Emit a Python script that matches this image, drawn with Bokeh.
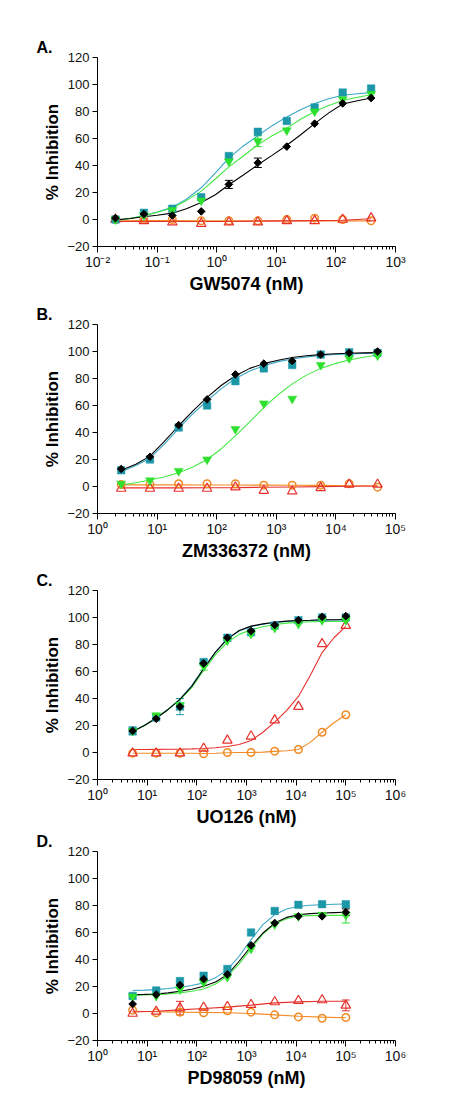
import numpy as np
from bokeh.plotting import figure
from bokeh.layouts import column
from bokeh.models import (Range1d, FixedTicker, CustomJSTickFormatter,
                          Whisker, ColumnDataSource, TeeHead)
from bokeh.embed import file_html
from bokeh.resources import INLINE

# ---------------- Panel A : GW5074 ----------------
a_x = [0.02, 0.06, 0.18, 0.55, 1.6, 4.9, 15, 44, 130, 390]
a_black = [1, 4, 3, 6, 26, 42, 54, 71, 86, 90]
a_black_err = [0, 0, 0, 0, 3, 3.5, 0, 0, 0, 0]
a_teal = [0, 5, 8, 16.5, 47, 65, 73, 83, 94, 97]
a_teal_err = [0, 0, 0, 0, 0, 0, 0, 0, 0, 0]
a_green = [0, 3, 7, 14, 43, 58, 66, 80, 89, 93]
a_green_err = [0, 0, 0, 0, 0, 4, 0, 0, 0, 0]
a_red = [0, -1, -2, -3, -2, -2, -1, -1, 0, 1]
a_red_err = [0, 0, 0, 0, 0, 0, 0, 0, 0, 0]
a_orange = [0, 0, 0, -1, -1, -1, 0, 1, 0, -1]
a_orange_err = [0, 0, 0, 0, 0, 0, 0, 0, 0, 0]
a_curve_x = [0.02, 0.035, 0.06, 0.1, 0.18, 0.31, 0.55, 0.95, 1.6, 2.8, 4.9,
             8.5, 15, 26, 44, 76, 130, 230, 390]
a_black_fit = [-0.3, 0.7, 2, 3.2, 4.7, 8, 12.6, 18.3, 25.7, 33, 40.5, 47.5, 55,
               63, 71, 79, 85.5, 88, 90]
a_teal_fit = [-0.7, 0.7, 2.8, 5.5, 9, 15, 23.5, 34.5, 45.5, 54.5, 62, 69.5, 76,
              81.5, 86, 89.5, 92, 93.2, 94]
a_green_fit = [-0.7, 0.7, 2.8, 5.3, 8.5, 14, 21, 30, 39, 47, 55.3, 62, 67.7,
               74.5, 80, 84.5, 88.1, 90.5, 92.4]
a_red_fit = [-1.5, -1.5, -1.5, -1.5, -1.5, -1.2, -1, -0.8, -0.5, 0.5]
a_orange_fit = [-0.5, -0.7, -0.8, -1, -1, -1, -1, -1, -1, -1]

# ---------------- Panel B : ZM336372 ----------------
b_x = [2.5, 7.6, 23, 69, 206, 617, 1850, 5560, 16700, 50000]
b_black = [13, 22, 45.5, 64.5, 83, 91, 93, 97.7, 99, 100]
b_black_err = [0, 0, 0, 0, 0, 0, 0, 0, 0, 0]
b_teal = [12, 20, 43.7, 60, 78, 87.5, 90, 97.7, 99.5, 99]
b_teal_err = [0, 0, 0, 0, 0, 0, 0, 0, 0, 0]
b_green = [2, 4.5, 11.5, 20, 42.5, 61.5, 65, 90, 95, 97]
b_green_err = [0, 0, 0, 0, 0, 0, 0, 0, 0, 0]
b_red = [-1.5, -1.5, -1.5, -1.5, -0.5, -3, -3.5, -1, 1.5, 1.5]
b_red_err = [0, 0, 0, 0, 0, 0, 0, 0, 0, 0]
b_orange = [1.5, 1.5, 2, 2, 2, 1, 1, 1, 2, -0.5]
b_orange_err = [0, 0, 0, 0, 0, 0, 0, 0, 0, 0]
b_curve_x = [2.5, 4.4, 7.6, 13, 23, 40, 69, 120, 206, 360, 617, 1070, 1850,
             3200, 5560, 9600, 16700, 29000, 50000]
b_black_fit = [12, 16.5, 22.5, 33, 45, 56, 66, 75, 82, 87.5, 91, 93.5, 95.5,
               96.8, 97.7, 98.3, 98.7, 99, 99.2]
b_teal_fit = [11, 15.5, 21, 31, 43, 54, 63.5, 72.5, 80, 85.5, 89.5, 92.5, 94.5,
              96, 97, 97.8, 98.2, 98.5, 98.7]
b_green_fit = [1, 2.8, 4.8, 7, 10.2, 14.5, 20, 28, 37.5, 48, 58.5, 68, 76,
               82.5, 87.5, 91, 93.7, 95.8, 97.4]
b_red_fit = [-1, -1, -1, -0.9, -0.8, -0.6, -0.4, -0.1, 0.2, 0.4]
b_orange_fit = [1.2, 1.2, 1.2, 1.1, 1.1, 1.0, 0.9, 0.8, 0.6, 0.4]

# ---------------- Panel C : UO126 ----------------
c_x = [5.1, 15.2, 45.7, 137, 412, 1235, 3700, 11100, 33300, 100000]
c_black = [16, 25, 34, 66, 85, 90, 94.5, 98, 100.5, 101]
c_black_err = [0, 0, 0, 0, 0, 0, 0, 0, 0, 0]
c_teal = [16, 26, 34, 67, 85, 89, 94, 98, 100, 100]
c_teal_err = [3, 0, 6, 0, 0, 0, 0, 0, 0, 0]
c_green = [16, 27.5, 35, 64, 83, 88, 92.3, 95.3, 98, 98]
c_green_err = [0, 0, 0, 3, 0, 0, 0, 0, 0, 0]
c_red = [-0.5, -0.5, -0.5, 3, 9, 12, 24, 34, 80.5, 94]
c_red_err = [0, 0, 0, 0, 0, 0, 0, 0, 0, 0]
c_orange = [-0.5, -0.5, -0.5, -1, 0, 0, 1, 2.2, 15, 28]
c_orange_err = [0, 0, 0, 0, 0, 0, 0, 0, 0, 0]
c_curve_x = [5.1, 8.8, 15.2, 26.4, 45.7, 79, 137, 238, 412, 713, 1235, 2140,
             3700, 6400, 11100, 19200, 33300, 57700, 100000]
c_black_fit = [15.6, 20, 25.4, 31.9, 39.3, 49, 62, 74.3, 84.2, 90.4, 93.6,
               95.3, 96.5, 97.3, 97.8, 98, 98.3, 98.3, 98.5]
c_teal_fit = [15.8, 20.2, 25.6, 32, 39.5, 49.5, 62.3, 74.5, 84, 90, 93.3, 95,
              96.3, 97, 97.5, 97.8, 98, 98.1, 98.2]
c_green_fit = [15.6, 20, 25.4, 31.9, 39, 48, 60.7, 72.5, 81.7, 87.5, 91, 93.2,
               94.8, 95.8, 96.4, 96.8, 97, 97, 97]
c_red_fit = [2.2, 2.2, 2.3, 2.4, 2.5, 2.7, 3, 3.5, 4.4, 5.9, 8.9, 15, 22.5, 31,
             41.5, 57, 74, 85, 93.5]
c_orange_fit = [-0.5, -0.5, -0.5, -0.5, -0.5, -0.6, -0.7, -0.5, -0.2, 0, 0,
                0.3, 0.8, 1.3, 2.2, 7.5, 15, 22, 28]

# ---------------- Panel D : PD98059 ----------------
d_x = [5.1, 15.2, 45.7, 137, 412, 1235, 3700, 11100, 33300, 100000]
d_black = [7, 14, 21, 25.5, 29, 50.5, 67, 72, 72, 75]
d_black_err = [0, 0, 0, 0, 0, 0, 0, 0, 0, 2.5]
d_teal = [13, 17, 24, 28, 33, 60, 76, 80.5, 81, 81]
d_teal_err = [0, 0, 0, 0, 0, 0, 0, 0, 0, 0]
d_green = [12.5, 13, 18, 23, 27, 48, 66, 72, 73, 73]
d_green_err = [0, 0, 0, 0, 0, 0, 0, 0, 0, 6]
d_red = [0, 1.5, 4, 4.5, 5, 6.5, 8.5, 9.5, 10, 6]
d_red_err = [0, 0, 5, 0, 0, 0, 0, 0, 0, 4]
d_orange = [2.5, 0.5, 1, 0.5, 2, 1, -1, -2.5, -3.5, -3]
d_orange_err = [0, 0, 0, 0, 0, 0, 0, 0, 0, 0]
d_curve_x = [5.1, 8.8, 15.2, 26.4, 45.7, 79, 137, 238, 412, 713, 1235, 2140,
             3700, 6400, 11100, 19200, 33300, 57700, 100000]
d_black_fit = [14, 14.2, 14.5, 15.3, 16.5, 18, 20.2, 23.4, 28.8, 38.7, 49.8,
               59.6, 67, 71.2, 73.2, 74, 74.4, 74.7, 75]
d_teal_fit = [17, 17.3, 17.7, 18.5, 19.5, 20.8, 22.7, 26.4, 32.5, 42.4, 54.7,
              65.8, 73.2, 77.4, 79.4, 80.2, 80.6, 80.9, 81.1]
d_green_fit = [13.6, 13.8, 14, 14.5, 15.3, 16.5, 18.2, 21.9, 27.6, 36.7, 48,
               58.9, 66.3, 70.2, 72, 72.5, 72.7, 72.7, 72.7]
d_red_fit = [1.2, 1.7, 2.7, 3.7, 4.7, 6.2, 7.9, 8.6, 9.1, 9.1]
d_orange_fit = [1.7, 1.3, 1, 0.8, 0.5, 0, -1, -2, -2.7, -3.2]

# ---------------- shared text ----------------
panel_letters = ["A.", "B.", "C.", "D."]
x_titles = ["GW5074 (nM)", "ZM336372 (nM)", "UO126 (nM)", "PD98059 (nM)"]
x_decades = [(-2, 3), (0, 5), (0, 6), (0, 6)]
y_ticks = [-20, 0, 20, 40, 60, 80, 100, 120]
y_title = "% Inhibition"

# ---------------- styles ----------------
FONT = "Liberation Sans"
BLACK = "#000000"
TEAL = "#1b97a8"
TEAL_LINE = "#3aa6c6"
GREEN = "#2ee02e"
GREEN_LINE = "#44e844"
RED = "#e6302c"
ORANGE = "#f28a24"

sup_js = """
const sup = {"-":"\u207b","0":"\u2070","1":"\u00b9","2":"\u00b2","3":"\u00b3",
             "4":"\u2074","5":"\u2075","6":"\u2076","7":"\u2077","8":"\u2078","9":"\u2079"};
const e = Math.round(Math.log10(tick));
return "10" + String(e).split("").map(c => sup[c]).join("");
"""

panels = [
    dict(x=a_x, cx=a_curve_x,
         series=[(a_orange, a_orange_err, "orange"), (a_red, a_red_err, "red"),
                 (a_teal, a_teal_err, "teal"), (a_green, a_green_err, "green"),
                 (a_black, a_black_err, "black")],
         fits=[(a_orange_fit, ORANGE, "data"), (a_red_fit, RED, "data"),
               (a_teal_fit, TEAL_LINE, "curve"), (a_green_fit, GREEN_LINE, "curve"),
               (a_black_fit, BLACK, "curve")],
         top=57, bottom=55),
    dict(x=b_x, cx=b_curve_x,
         series=[(b_orange, b_orange_err, "orange"), (b_red, b_red_err, "red"),
                 (b_teal, b_teal_err, "teal"), (b_green, b_green_err, "green"),
                 (b_black, b_black_err, "black")],
         fits=[(b_orange_fit, ORANGE, "data"), (b_red_fit, RED, "data"),
               (b_teal_fit, TEAL_LINE, "curve"), (b_green_fit, GREEN_LINE, "curve"),
               (b_black_fit, BLACK, "curve")],
         top=23, bottom=55),
    dict(x=c_x, cx=c_curve_x,
         series=[(c_orange, c_orange_err, "orange"), (c_red, c_red_err, "red"),
                 (c_teal, c_teal_err, "teal"), (c_green, c_green_err, "green"),
                 (c_black, c_black_err, "black")],
         fits=[(c_orange_fit, ORANGE, "curve"), (c_red_fit, RED, "curve"),
               (c_teal_fit, TEAL_LINE, "curve"), (c_green_fit, GREEN_LINE, "curve"),
               (c_black_fit, BLACK, "curve")],
         top=22, bottom=49),
    dict(x=d_x, cx=d_curve_x,
         series=[(d_orange, d_orange_err, "orange"), (d_red, d_red_err, "red"),
                 (d_teal, d_teal_err, "teal"), (d_green, d_green_err, "green"),
                 (d_black, d_black_err, "black")],
         fits=[(d_orange_fit, ORANGE, "data"), (d_red_fit, RED, "data"),
               (d_teal_fit, TEAL_LINE, "curve"), (d_green_fit, GREEN_LINE, "curve"),
               (d_black_fit, BLACK, "curve")],
         top=22, bottom=55),
]

marker_style = {
    "black": dict(marker="square", size=5.4, angle=np.pi / 4, fill_color=BLACK,
                  line_color=BLACK, line_width=1),
    "teal": dict(marker="square", size=7.5, fill_color=TEAL, line_color=TEAL,
                 line_width=0.5),
    "green": dict(marker="inverted_triangle", size=9, fill_color=GREEN,
                  line_color=GREEN, line_width=0.5),
    "red": dict(marker="triangle", size=9.5, fill_color=None, line_color=RED,
                line_width=1.2),
    "orange": dict(marker="circle", size=7.5, fill_color=None, line_color=ORANGE,
                   line_width=1.5),
}
err_color = {"black": BLACK, "teal": TEAL, "green": GREEN, "red": RED,
             "orange": ORANGE}

figs = []
for i, pn in enumerate(panels):
    lo, hi = x_decades[i]
    p = figure(x_axis_type="log", x_range=Range1d(10.0 ** lo, 10.0 ** hi),
               y_range=Range1d(-20, 120), frame_width=298, frame_height=189,
               min_border_left=97, min_border_right=60,
               min_border_top=pn["top"], min_border_bottom=pn["bottom"],
               output_backend="svg", toolbar_location=None,
               title=panel_letters[i])
    p.outline_line_color = None
    p.xgrid.visible = False
    p.ygrid.visible = False
    p.background_fill_color = "white"

    # panel letter as title, pushed to the left of the frame
    p.title.align = "left"
    p.title.offset = -61
    p.title.text_font = FONT
    p.title.text_font_style = "bold"
    p.title.text_font_size = "16px"
    p.title.standoff = 3
    p.title.text_color = "#000000"

    # axes
    p.xaxis.ticker = FixedTicker(
        ticks=[10.0 ** k for k in range(lo, hi + 1)],
        minor_ticks=[m * 10.0 ** k for k in range(lo, hi) for m in range(2, 10)])
    p.xaxis.formatter = CustomJSTickFormatter(code=sup_js)
    p.yaxis.ticker = FixedTicker(ticks=y_ticks, minor_ticks=[])
    for ax in (p.xaxis, p.yaxis):
        ax.axis_line_color = BLACK
        ax.axis_line_width = 1
        ax.major_tick_line_color = BLACK
        ax.minor_tick_line_color = BLACK
        ax.major_tick_in = 0
        ax.minor_tick_in = 0
        ax.major_label_text_font = FONT
        ax.major_label_text_color = "#111111"
        ax.axis_label_text_font = FONT
        ax.axis_label_text_font_style = "bold"
        ax.axis_label_text_color = "#000000"
    p.xaxis.major_tick_out = 6
    p.xaxis.minor_tick_out = 3
    p.yaxis.major_tick_out = 5
    p.xaxis.major_label_text_font_size = "14px"
    p.yaxis.major_label_text_font_size = "13px"
    p.xaxis.axis_label = x_titles[i]
    p.xaxis.axis_label_text_font_size = "18px"
    p.xaxis.axis_label_standoff = 1
    p.xaxis.major_label_standoff = 1
    p.yaxis.axis_label = y_title
    p.yaxis.axis_label_text_font_size = "17px"
    p.yaxis.axis_label_standoff = 2
    p.yaxis.major_label_standoff = 3

    # fitted / connecting lines
    for yy, col, kind in pn["fits"]:
        xx = pn["cx"] if kind == "curve" else pn["x"]
        p.line(xx, yy, line_color=col, line_width=1.1)

    # error bars
    for yy, ee, key in pn["series"]:
        bx = [x for x, e in zip(pn["x"], ee) if e > 0]
        if not bx:
            continue
        yv = [y for y, e in zip(yy, ee) if e > 0]
        ev = [e for e in ee if e > 0]
        src = ColumnDataSource(dict(base=bx, lower=[y - e for y, e in zip(yv, ev)],
                                    upper=[y + e for y, e in zip(yv, ev)]))
        c = err_color[key]
        p.add_layout(Whisker(source=src, base="base", lower="lower", upper="upper",
                             line_color=c, line_width=1,
                             upper_head=TeeHead(size=8, line_color=c, line_width=1),
                             lower_head=TeeHead(size=8, line_color=c, line_width=1)))

    # markers
    for yy, ee, key in pn["series"]:
        p.scatter(pn["x"], yy, **marker_style[key])

    figs.append(p)

layout = column(*figs, spacing=0)
open("out.html", "w").write(file_html(layout, INLINE))
